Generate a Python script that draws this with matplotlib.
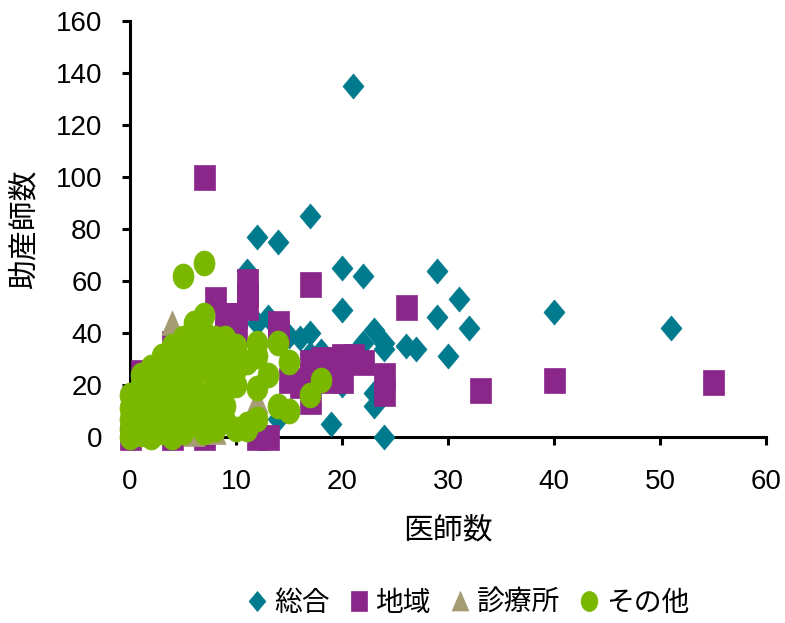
import matplotlib
matplotlib.use("Agg")
import matplotlib.pyplot as plt
from matplotlib.path import Path
import numpy as np

# ---- data -------------------------------------------------------------
series_names = ["総合", "地域", "診療所", "その他"]

sogo_x = [21, 17, 12, 14, 11, 20, 22, 29, 31, 20, 29, 32, 40, 51, 13, 23, 24, 26, 27, 22,
          24, 30, 17, 16, 17, 18, 23, 23, 19, 24, 20, 15, 12, 8, 14, 9, 10, 5, 3, 6]
sogo_y = [135, 85, 77, 75, 64, 65, 62, 64, 53, 49, 46, 42, 48, 42, 46, 41, 36, 35, 34, 36,
          34, 31, 40, 38, 32, 33, 17, 12, 5, 0, 20, 39, 44, 38, 7, 35, 30, 20, 10, 25]

chiiki_x = [7, 17, 26, 11, 11, 11, 8, 9, 10, 14, 33, 40, 55, 24, 24, 20, 21, 20, 18, 17,
            19, 17, 19, 15, 16, 17, 22, 0, 1, 2, 4, 4, 7, 12, 13, 9, 10, 14]
chiiki_y = [100, 59, 50, 60, 55, 50, 53, 47, 47, 44, 18, 22, 21, 24, 17, 31, 31, 22, 30, 24,
            22, 14, 30, 22, 20, 29, 29, 0, 25, 22, 36, 0, 0, 0, 0, 40, 40, 40]

shinryo_x = [4, 1, 8, 7, 12, 3, 5, 2, 6, 9, 6]
shinryo_y = [44, 22, 2, 2, 14, 15, 10, 5, 20, 25, 1]

sonota_x = [5, 7, 7, 6, 4, 10, 12, 14, 15, 12, 13, 12, 14, 15, 17, 18, 12, 10, 11, 8,
            8, 9, 10, 8, 6, 5, 3, 1, 0, 0, 0, 0, 1, 1, 1, 1, 2, 2, 2, 2,
            2, 3, 3, 3, 3, 3, 4, 4, 4, 4, 4, 5, 5, 5, 5, 6, 6, 6, 6, 7,
            7, 7, 7, 8, 8, 9, 9, 9, 10, 11, 5, 6, 7, 2, 0, 1, 8, 9,
            1, 2, 3, 4, 5, 6, 7, 7, 8, 5, 6, 3, 4, 9, 10, 11, 2, 6]
sonota_y = [62, 67, 47, 42, 35, 35, 36, 36, 29, 31, 24, 19, 12, 10, 16, 22, 7, 3, 3, 34,
            29, 27, 20, 8, 39, 30, 27, 18, 16, 7, 3, 0, 1, 4, 9, 13, 22, 0, 6, 11,
            16, 2, 7, 12, 20, 25, 0, 5, 10, 17, 29, 2, 8, 14, 22, 5, 12, 18, 33, 2,
            10, 16, 26, 14, 22, 12, 18, 32, 26, 5, 38, 29, 36, 3, 11, 24, 3, 6,
            20, 19, 31, 24, 36, 37, 40, 32, 38, 19, 24, 22, 31, 38, 31, 29, 27, 44]

x_ticks = [0, 10, 20, 30, 40, 50, 60]
y_ticks = [0, 20, 40, 60, 80, 100, 120, 140, 160]

colors = ["#007B8E", "#8B268B", "#A59C73", "#7AB800"]

# ---- marker shapes (slightly taller than wide) ------------------------
w = 0.84
diamond = Path([(0, 1), (w, 0), (0, -1), (-w, 0), (0, 1)],
               [Path.MOVETO, Path.LINETO, Path.LINETO, Path.LINETO, Path.CLOSEPOLY])
square = Path([(-w, -1), (w, -1), (w, 1), (-w, 1), (-w, -1)],
              [Path.MOVETO, Path.LINETO, Path.LINETO, Path.LINETO, Path.CLOSEPOLY])
triangle = Path([(-w, -0.95), (w, -0.95), (0, 1), (-w, -0.95)],
                [Path.MOVETO, Path.LINETO, Path.LINETO, Path.CLOSEPOLY])
uc = Path.unit_circle()
ellipse = Path(uc.vertices * np.array([w, 1.0]), uc.codes)
markers = [diamond, square, triangle, ellipse]

# ---- fonts ------------------------------------------------------------
num_font, num_size = "Liberation Sans", 20
cjk = ["Noto Sans CJK JP", "DejaVu Sans"]

# ---- figure -----------------------------------------------------------
W, H = 785, 623
fig = plt.figure(figsize=(W / 100, H / 100), dpi=100)
ax = fig.add_axes([130 / W, (H - 437) / H, (766 - 130) / W, (437 - 21) / H])

xs = [sogo_x, chiiki_x, shinryo_x, sonota_x]
ys = [sogo_y, chiiki_y, shinryo_y, sonota_y]
for i in range(4):
    ax.plot(xs[i], ys[i], linestyle="none", marker=markers[i], markersize=18,
            markerfacecolor=colors[i], markeredgecolor=colors[i], markeredgewidth=0.5,
            color=colors[i], label=series_names[i], clip_on=False, zorder=3 + i)

ax.set_xlim(0, 60)
ax.set_ylim(0, 160)
ax.set_xticks(x_ticks)
ax.set_yticks(y_ticks)
for s in ["top", "right"]:
    ax.spines[s].set_visible(False)
for s in ["left", "bottom"]:
    ax.spines[s].set_linewidth(2.2)
    ax.spines[s].set_zorder(1)
ax.tick_params(axis="both", direction="out", length=6, width=2.2, labelsize=num_size)
ax.tick_params(axis="y", pad=14)
ax.tick_params(axis="x", pad=17)
for lab in ax.get_xticklabels() + ax.get_yticklabels():
    lab.set_fontfamily(num_font)

ax.set_xlabel("医師数", fontsize=21.5, family=cjk, labelpad=14)
ax.set_ylabel("助産師数", fontsize=21.5, family=cjk, labelpad=12)

leg = fig.legend(loc="center", bbox_to_anchor=(469 / W, (H - 603) / H), ncol=4,
                 frameon=False, markerscale=0.8, handlelength=0.6,
                 handletextpad=0.3, columnspacing=0.75,
                 prop={"family": cjk, "size": 20})

fig.savefig("out.png", dpi=100)
